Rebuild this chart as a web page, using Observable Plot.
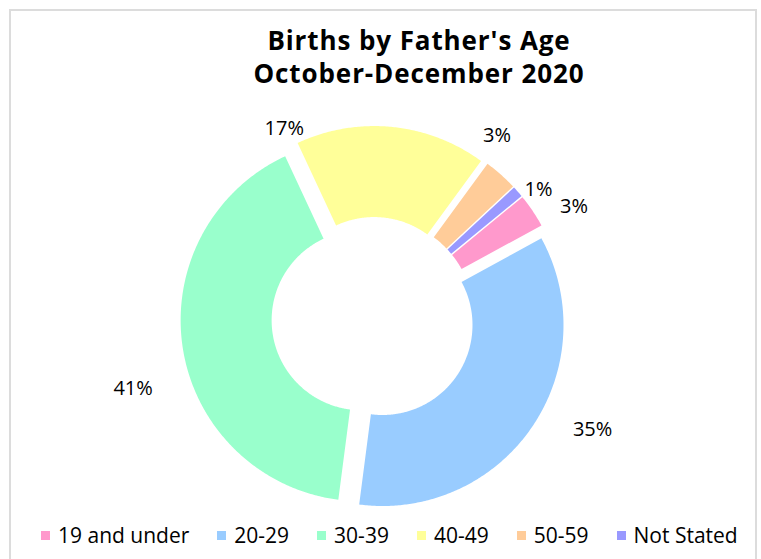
<!DOCTYPE html>
<html>
<head>
<meta charset="utf-8">
<script src="https://cdn.jsdelivr.net/npm/d3@7"></script>
<script src="https://cdn.jsdelivr.net/npm/@observablehq/plot@0.6"></script>
<style>
  html, body { margin: 0; padding: 0; background: #fff; }
  body { width: 761px; height: 559px; overflow: hidden; position: relative; font-family: "Open Sans", sans-serif; }
  .frame { position: absolute; left: 9px; top: 9px; width: 748px; height: 620px; border: 2px solid #dcdcdc; box-sizing: border-box; }
  .fig { position: absolute; left: 28px; top: -26px; font: bold 20px "Open Sans", sans-serif; color: #000; line-height: 27px; }
  .title { position: absolute; left: 119px; width: 600px; top: 24px; text-align: center; font: bold 26px/33px "Open Sans", sans-serif; letter-spacing: 0.9px; color: #000; }
  #chart { position: absolute; left: 0; top: 0; }
  #legend { position: absolute; left: 41px; top: 525px; width: 760px; }
  .lg-swatches { display: flex !important; flex-wrap: nowrap !important; align-items: center !important; min-height: 20px !important; height: 20px; margin: 0 !important; font: 21px/20px "Open Sans", sans-serif !important; color: #000 !important; white-space: nowrap; }
  .lg-swatch { margin-right: 28px !important; display: inline-flex !important; align-items: center !important; line-height: 20px; flex: none; }
  .lg-swatch > svg { margin-right: 8px !important; }
</style>
</head>
<body>
<div class="frame"></div>
<div class="fig">Fig. 5</div>
<div class="title">Births by Father's Age<br>October-December 2020</div>
<div id="chart"></div>
<div id="legend"></div>
<script>
// ---- data ----
const categories = ["19 and under", "20-29", "30-39", "40-49", "50-59", "Not Stated"];
const shares = [3, 35, 41, 17, 3, 1];
const labels = ["3%", "35%", "41%", "17%", "3%", "1%"];
const colors = ["#ff99cc", "#99ccff", "#99ffcc", "#ffff99", "#ffcc99", "#9999ff"];

// ---- layout (style) ----
const W = 761, H = 559;
const Cx = 372.5, Cy = 318;         // donut centre in page pixels
const R = 181, r = 90;              // outer / inner radius
const explode = 11.5;               // slice explosion
const startDeg = 50.6;              // angle of first slice (clockwise from 12 o'clock)
const labelAt = [0.96, 0.44, 0.45, 0.0, -0.19, 1.4];      // position along slice (0=start,1=end)
const labelRad = [1.27, 1.36, 1.38, 1.16, 1.22, 1.16];    // label distance in outer radii

const total = d3.sum(shares);
const rad = Math.PI / 180;
const pts = [];
const lab = [];
let acc = startDeg * rad;
categories.forEach((c, i) => {
  const a0 = acc, a1 = acc + shares[i] / total * 2 * Math.PI;
  acc = a1;
  const m = (a0 + a1) / 2;
  const ox = explode * Math.sin(m), oy = -explode * Math.cos(m);
  const n = Math.max(4, Math.ceil((a1 - a0) / (0.5 * rad)));
  for (let k = 0; k <= n; k++) {
    const a = a0 + (a1 - a0) * k / n;
    pts.push({cat: c, x: ox + R * Math.sin(a), y: oy - R * Math.cos(a)});
  }
  for (let k = n; k >= 0; k--) {
    const a = a0 + (a1 - a0) * k / n;
    pts.push({cat: c, x: ox + r * Math.sin(a), y: oy - r * Math.cos(a)});
  }
  const la = a0 + (a1 - a0) * labelAt[i];
  lab.push({text: labels[i], x: labelRad[i] * R * Math.sin(la), y: -labelRad[i] * R * Math.cos(la)});
});

const chart = Plot.plot({
  width: W, height: H, margin: 0,
  x: {domain: [-Cx, W - Cx], range: [0, W], axis: null},
  y: {domain: [-Cy, H - Cy], range: [0, H], axis: null},
  color: {domain: categories, range: colors},
  style: {background: "transparent", fontFamily: "Open Sans, sans-serif", overflow: "visible"},
  marks: [
    Plot.line(pts, {x: "x", y: "y", z: "cat", fill: "cat", stroke: null, curve: "linear-closed"}),
    Plot.text(lab, {x: "x", y: "y", text: "text", fontSize: 20, fill: "#000"})
  ]
});
document.getElementById("chart").appendChild(chart);

const legend = Plot.legend({
  color: {domain: categories, range: colors, type: "ordinal"},
  legend: "swatches",
  swatchSize: 9,
  className: "lg"
});
document.getElementById("legend").appendChild(legend);
</script>
</body>
</html>
